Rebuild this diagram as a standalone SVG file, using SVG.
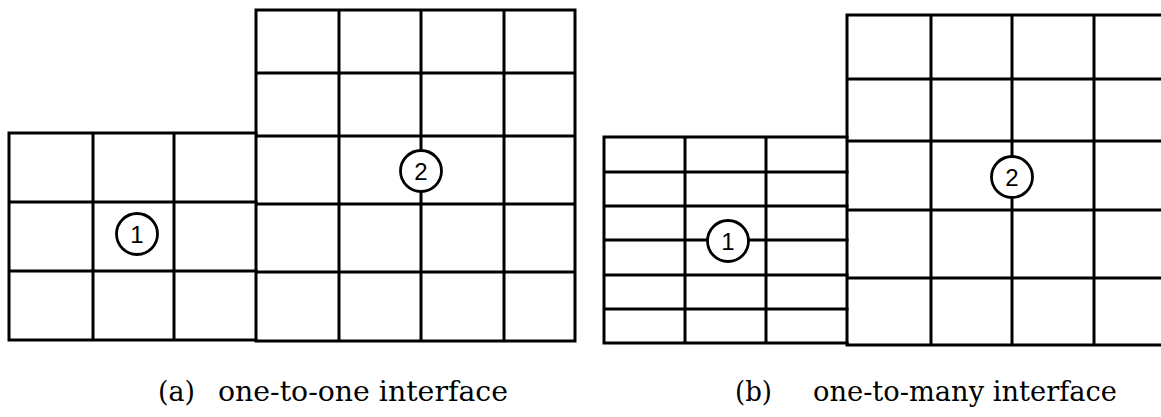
<svg xmlns="http://www.w3.org/2000/svg" width="1161" height="417" viewBox="0 0 1161 417">
<style>
.g{stroke:#000;stroke-width:3;fill:none;stroke-linecap:square}
.c{stroke:#000;stroke-width:2.8;fill:#fff}
.n{font-family:"Liberation Sans",Arial,sans-serif;font-size:24px;text-anchor:middle;fill:#000}
.cap{font-family:"DejaVu Serif","Liberation Serif",serif;font-size:28px;fill:#000}
</style>
<rect width="1161" height="417" fill="#fff"/>
<g id="panel-a">
  <g id="grid-a" class="g">
    <path d="M9 133H256M9 202H256M9 271H256M9 340H256M9 133V340M93 133V340M174 133V340"/>
    <path d="M256 10H575M256 73H575M256 136H575M256 204H575M256 272H575M256 341H575M256 10V341M339 10V341M421 10V341M504 10V341M575 10V341"/>
  </g>
  <g id="a-node1"><circle class="c" cx="137" cy="234" r="20.5"/><text class="n" x="137" y="242.5">1</text></g>
  <g id="a-node2"><circle class="c" cx="421" cy="171" r="20.5"/><text class="n" x="421" y="179.5">2</text></g>
  <text class="cap" x="158" y="401" textLength="37" lengthAdjust="spacingAndGlyphs">(a)</text>
  <text class="cap" x="218" y="401" textLength="290" lengthAdjust="spacingAndGlyphs">one-to-one interface</text>
</g>
<g id="panel-b">
  <g id="grid-b" class="g">
    <path d="M604 137H847M604 172H847M604 206H847M604 240H847M604 275H847M604 309H847M604 343H847M604 137V343M685 137V343M766 137V343"/>
    <path d="M847 15H1163M847 79H1163M847 141H1163M847 210H1163M847 278H1163M847 345H1163M847 15V345M931 15V345M1012 15V345M1094 15V345"/>
  </g>
  <g id="b-node1"><circle class="c" cx="728" cy="241" r="20.5"/><text class="n" x="728" y="249.5">1</text></g>
  <g id="b-node2"><circle class="c" cx="1012" cy="177" r="20.5"/><text class="n" x="1012" y="185.5">2</text></g>
  <text class="cap" x="735" y="401" textLength="37" lengthAdjust="spacingAndGlyphs">(b)</text>
  <text class="cap" x="813" y="401" textLength="304" lengthAdjust="spacingAndGlyphs">one-to-many interface</text>
</g>
<g id="connectors"/>
</svg>
